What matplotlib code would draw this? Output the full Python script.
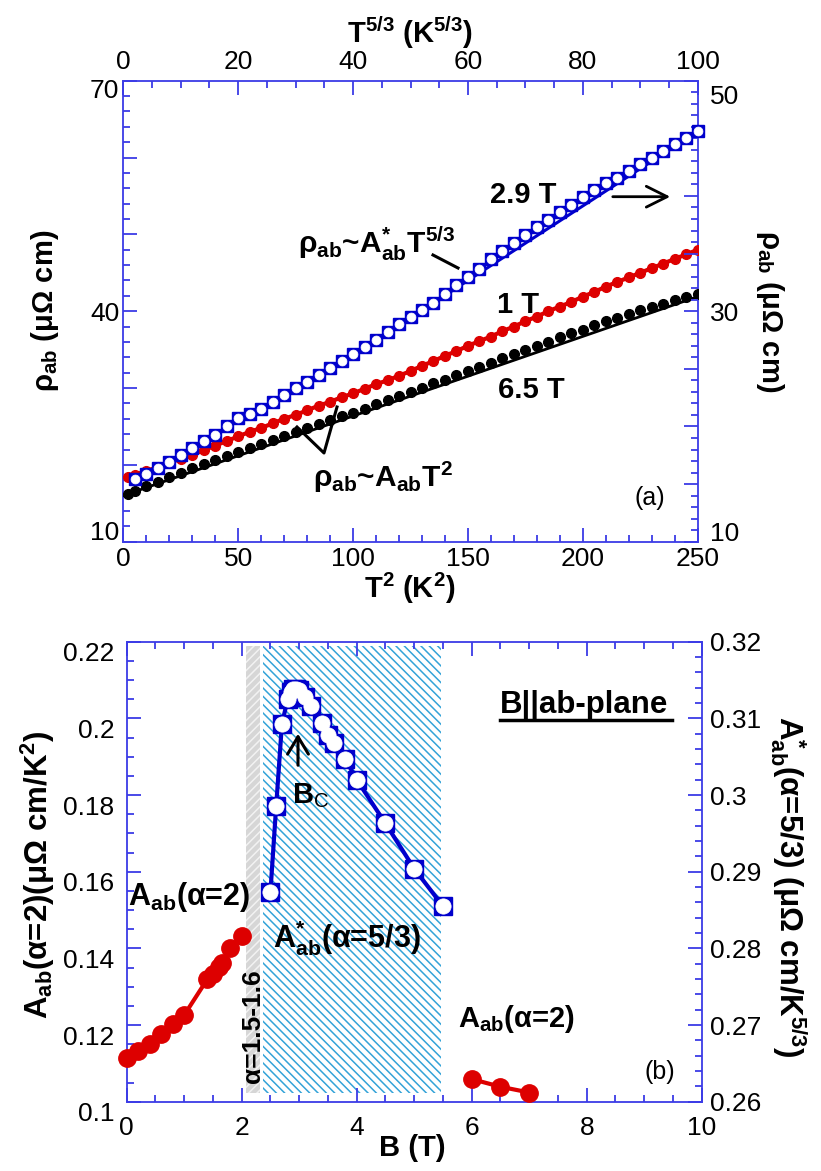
import matplotlib
matplotlib.use('Agg')
import matplotlib.pyplot as plt
from matplotlib.ticker import MultipleLocator, FixedLocator, FixedFormatter
from matplotlib.lines import Line2D
from matplotlib.transforms import ScaledTranslation

plt.rcParams['font.family'] = ['Liberation Sans', 'DejaVu Sans']
plt.rcParams['mathtext.fontset'] = 'custom'
plt.rcParams['mathtext.rm'] = 'Liberation Sans'
plt.rcParams['mathtext.bf'] = 'Liberation Sans:bold'
plt.rcParams['mathtext.it'] = 'Liberation Sans:italic'
plt.rcParams['hatch.linewidth'] = 1.1

# ---------------- data: panel (a) ----------------
t2_points = [2, 5, 10, 15, 20, 25, 30, 35, 40, 45, 50, 55, 60, 65, 70, 75, 80, 85, 90, 95,
             100, 105, 110, 115, 120, 125, 130, 135, 140, 145, 150, 155, 160, 165, 170,
             175, 180, 185, 190, 195, 200, 205, 210, 215, 220, 225, 230, 235, 240, 245, 250]
rho_1T = [18.4, 18.7, 19.2, 19.7, 20.3, 20.8, 21.3, 21.9, 22.5, 23.1, 23.7, 24.3, 24.8, 25.4,
          26.0, 26.5, 27.1, 27.7, 28.2, 28.8, 29.3, 29.9, 30.5, 31.0, 31.6, 32.2, 32.9, 33.5,
          34.2, 34.8, 35.5, 36.1, 36.7, 37.4, 38.0, 38.7, 39.3, 40.0, 40.6, 41.2, 41.9, 42.5,
          43.2, 43.8, 44.4, 45.0, 45.6, 46.2, 46.8, 47.4, 48.0]
rho_65T = [16.2, 16.55, 17.2, 17.8, 18.4, 19.0, 19.6, 20.1, 20.6, 21.1, 21.7, 22.2, 22.7, 23.2,
           23.8, 24.3, 24.8, 25.3, 25.8, 26.3, 26.8, 27.3, 27.9, 28.4, 28.9, 29.5, 30.0, 30.6,
           31.1, 31.7, 32.2, 32.8, 33.3, 33.9, 34.4, 35.0, 35.5, 36.0, 36.6, 37.1, 37.6, 38.2,
           38.7, 39.1, 39.6, 40.1, 40.6, 41.0, 41.4, 41.9, 42.3]
t53_points = [2, 4, 6, 8, 10, 12, 14, 16, 18, 20, 22, 24, 26, 28, 30, 32, 34, 36, 38, 40,
              42, 44, 46, 48, 50, 52, 54, 56, 58, 60, 62, 64, 66, 68, 70, 72, 74, 76, 78, 80,
              82, 84, 86, 88, 90, 92, 94, 96, 98, 100]
rho_29T = [15.4, 15.9, 16.4, 16.9, 17.5, 18.1, 18.7, 19.3, 20.0, 20.7, 21.1, 21.5, 22.1, 22.7,
           23.3, 23.9, 24.5, 25.1, 25.7, 26.3, 26.9, 27.5, 28.2, 28.9, 29.5, 30.1, 30.7, 31.5,
           32.3, 33.0, 33.7, 34.5, 35.2, 35.9, 36.6, 37.3, 37.9, 38.6, 39.2, 39.9, 40.5, 41.1,
           41.6, 42.2, 42.8, 43.3, 43.9, 44.5, 45.0, 45.6]
fit_t2 = [0, 250]
fit_65T = [16.0, 41.9]
fit_t53 = [40, 100]
fit_29T = [26.2, 45.6]

# ---------------- data: panel (b) ----------------
B_low = [0.0, 0.2, 0.4, 0.6, 0.8, 1.0, 1.4, 1.5, 1.6, 1.65, 1.8, 2.0]
A_low = [0.1113, 0.1133, 0.1150, 0.1177, 0.1204, 0.1226, 0.1319, 0.1333, 0.1351, 0.1361,
         0.1400, 0.1431]
B_high = [6.0, 6.5, 7.0]
A_high = [0.1059, 0.1039, 0.1024]
B_star = [2.5, 2.6, 2.7, 2.8, 2.85, 2.9, 2.95, 3.0, 3.1, 3.2, 3.4, 3.5, 3.6, 3.8, 4.0, 4.5,
          5.0, 5.5]
A_star = [0.2874, 0.2986, 0.3093, 0.3125, 0.3135, 0.3138, 0.3138, 0.3137, 0.3128, 0.3116,
          0.3094, 0.3078, 0.3068, 0.3047, 0.3020, 0.2963, 0.2904, 0.2855]
gray_band = [2.07, 2.32]
blue_band = [2.37, 5.46]
band_A = [0.1022, 0.2190]

W, H = 821, 1171
fig = plt.figure(figsize=(W / 100, H / 100), dpi=100)

AX = '#3b3be6'
RED = '#dd0000'
BLUE = '#0000cc'
TS = 19


def rect(x0, x1, y0, y1):
    return [x0 / W, 1 - y1 / H, (x1 - x0) / W, (y1 - y0) / H]


def fpos(x, y):
    return (x / W, 1 - y / H)


def style_ticks(ax, **kw):
    ax.tick_params(which='both', direction='in', color=AX, width=1.3, labelsize=TS, **kw)
    ax.tick_params(which='major', length=10)
    ax.tick_params(which='minor', length=5)


def shift_labels(axis, shifts):
    # shifts: {tick index: pixel offset downward}
    ticks = axis.get_major_ticks()
    for i, dy in shifts.items():
        off = ScaledTranslation(0, -dy / 100, fig.dpi_scale_trans)
        for lab in (ticks[i].label1, ticks[i].label2):
            lab.set_transform(lab.get_transform() + off)


# ================= panel (a) =================
ax1 = fig.add_axes(rect(123.3, 697.7, 80.7, 541.7))
ax1.set_xlim(0, 250)
ax1.set_ylim(10, 70)
for s in ax1.spines.values():
    s.set_color(AX)
    s.set_linewidth(1.3)
ax1.xaxis.set_major_locator(MultipleLocator(50))
ax1.xaxis.set_minor_locator(MultipleLocator(10))
ax1.yaxis.set_major_locator(FixedLocator([10, 20, 30, 40, 50, 60, 70]))
ax1.yaxis.set_major_formatter(FixedFormatter(['10', '', '', '40', '', '', '70']))
ax1.yaxis.set_minor_locator(MultipleLocator(2))
style_ticks(ax1, top=False, right=False)
ax1.tick_params(axis='x', pad=4)
ax1.tick_params(axis='y', pad=3)
shift_labels(ax1.yaxis, {0: -11, 6: 8})

ax1.plot(t2_points, rho_1T, '-', color=RED, lw=3, marker='o', ms=7, mec=RED, zorder=3)
ax1.plot(fit_t2, fit_65T, '-', color='black', lw=2, zorder=3)
ax1.plot(t2_points, rho_65T, 'o', color='black', ms=7, zorder=4)

axb = fig.add_axes(rect(123.3, 697.7, 80.7, 541.7), label='topright')
axb.patch.set_visible(False)
for s in axb.spines.values():
    s.set_visible(False)
axb.set_xlim(0, 100)
axb.set_ylim(10, 50)
axb.xaxis.tick_top()
axb.yaxis.tick_right()
axb.xaxis.set_major_locator(MultipleLocator(20))
axb.xaxis.set_minor_locator(MultipleLocator(5))
axb.yaxis.set_major_locator(FixedLocator([10, 15, 20, 25, 30, 35, 40, 45, 50]))
axb.yaxis.set_major_formatter(FixedFormatter(['10', '', '', '', '30', '', '', '', '50']))
axb.yaxis.set_minor_locator(MultipleLocator(1))
style_ticks(axb, bottom=False, left=False, top=True, right=True)
axb.tick_params(axis='x', pad=5)
axb.tick_params(axis='y', pad=9)
shift_labels(axb.yaxis, {0: -10, 8: 14})
axb.plot(fit_t53, fit_29T, '-', color=BLUE, lw=2.2, zorder=2)
axb.plot(t53_points, rho_29T, 's', color=BLUE, ms=8, mec=BLUE, zorder=3, clip_on=False)
axb.plot(t53_points, rho_29T, 'o', color='white', ms=6.4, mec='white', mew=0.5, zorder=4,
         clip_on=False)

# labels panel (a)
fig.text(*fpos(410, 33), r'$\mathbf{T^{5/3}}$ ($\mathbf{K^{5/3}}$)', ha='center', va='center',
         fontsize=21, fontweight='bold')
fig.text(*fpos(410, 588), r'$\mathbf{T^{2}}$ ($\mathbf{K^{2}}$)', ha='center', va='center',
         fontsize=21, fontweight='bold')
fig.text(*fpos(45, 311), r'$\mathbf{\rho_{ab}}$ (μΩ cm)', rotation=90, ha='center', va='center',
         fontsize=21, fontweight='bold')
fig.text(*fpos(770, 311), r'$\mathbf{\rho_{ab}}$ (μΩ cm)', rotation=-90, ha='center',
         va='center', fontsize=21, fontweight='bold')
fig.text(*fpos(490, 203), '2.9 T', ha='left', va='baseline', fontsize=21, fontweight='bold')
fig.text(*fpos(497, 313), '1 T', ha='left', va='baseline', fontsize=21, fontweight='bold')
fig.text(*fpos(498, 398), '6.5 T', ha='left', va='baseline', fontsize=21, fontweight='bold')
fig.text(*fpos(298, 253), r'$\mathbf{\rho_{ab}}$~$\mathbf{A^{*}_{ab}T^{5/3}}$', ha='left',
         va='baseline', fontsize=21.5, fontweight='bold')
fig.text(*fpos(313, 487), r'$\mathbf{\rho_{ab}}$~$\mathbf{A_{ab}T^{2}}$', ha='left',
         va='baseline', fontsize=21.5, fontweight='bold')
fig.text(*fpos(650, 498), '(a)', ha='center', va='center', fontsize=18)
ax1.annotate('', xy=fpos(673, 196.7), xytext=fpos(610, 196.7), xycoords='figure fraction',
             textcoords='figure fraction',
             arrowprops=dict(arrowstyle='->,head_length=0.6,head_width=0.3', lw=2,
                             color='black', mutation_scale=25))


def fig_line(pts, lw=2.2):
    xs = [p[0] / W for p in pts]
    ys = [1 - p[1] / H for p in pts]
    fig.add_artist(Line2D(xs, ys, transform=fig.transFigure, color='black', lw=lw))


fig_line([(433, 255), (458, 268)])
fig_line([(297, 427), (324, 453), (337, 407)])

# ================= panel (b) =================
ax2 = fig.add_axes(rect(126.7, 701.7, 641.7, 1101.7))
ax2.set_xlim(0, 10)
ax2.set_ylim(0.10, 0.22)
for s in ax2.spines.values():
    s.set_color(AX)
    s.set_linewidth(1.3)
ax2.xaxis.set_major_locator(MultipleLocator(2))
ax2.xaxis.set_minor_locator(MultipleLocator(0.5))
ax2.yaxis.set_major_locator(FixedLocator([0.10, 0.12, 0.14, 0.16, 0.18, 0.20, 0.22]))
ax2.yaxis.set_major_formatter(FixedFormatter(['0.1', '0.12', '0.14', '0.16', '0.18', '0.2',
                                              '0.22']))
ax2.yaxis.set_minor_locator(MultipleLocator(0.005))
style_ticks(ax2, top=True, right=False)
ax2.tick_params(axis='x', pad=10)
ax2.tick_params(axis='y', pad=9)
shift_labels(ax2.yaxis, {i: 10 for i in range(7)})

yr = [(v - 0.10) / 0.12 for v in band_A]
ax2.axvspan(gray_band[0], gray_band[1], ymin=yr[0], ymax=yr[1], facecolor='#d6d6d6',
            edgecolor='#f2f2f2', hatch='////', linewidth=0, zorder=1)
ax2.axvspan(blue_band[0], blue_band[1], ymin=yr[0], ymax=yr[1], facecolor='white',
            edgecolor='#33a3d8', hatch='\\\\\\\\', linewidth=0, zorder=1)

ax2.plot(B_low, A_low, '-o', color=RED, lw=3, ms=12.5, zorder=3, clip_on=False)
ax2.plot(B_high, A_high, '-o', color=RED, lw=3, ms=12.5, zorder=3, clip_on=False)

ax2r = ax2.twinx()
ax2r.set_ylim(0.26, 0.32)
for s in ax2r.spines.values():
    s.set_visible(False)
ax2r.yaxis.set_major_locator(FixedLocator([0.26, 0.27, 0.28, 0.29, 0.30, 0.31, 0.32]))
ax2r.yaxis.set_major_formatter(FixedFormatter(['0.26', '0.27', '0.28', '0.29', '0.3', '0.31',
                                               '0.32']))
ax2r.yaxis.set_minor_locator(MultipleLocator(0.002))
style_ticks(ax2r, right=True, left=False)
ax2r.tick_params(axis='y', pad=6)
ax2r.plot(B_star, A_star, '-', color=BLUE, lw=3, zorder=2)
ax2r.plot(B_star, A_star, 's', color=BLUE, ms=12.5, zorder=3)
ax2r.plot(B_star, A_star, 'o', color='white', ms=11, mec='white', mew=0.5, zorder=4)

# labels panel (b)
fig.text(*fpos(412, 1148), 'B (T)', ha='center', va='center', fontsize=21, fontweight='bold')
fig.text(*fpos(38, 875), r'$\mathbf{A_{ab}}$(α=2)(μΩ cm/K$^\mathbf{2}$)', rotation=90,
         ha='center', va='center', fontsize=22.5, fontweight='bold')
fig.text(*fpos(788, 887), r'$\mathbf{A^{*}_{ab}}$(α=5/3) (μΩ cm/K$^\mathbf{5/3}$)',
         rotation=-90, ha='center', va='center', fontsize=22.5, fontweight='bold')
fig.text(*fpos(128, 905), r'$\mathbf{A_{ab}}$(α=2)', ha='left', va='baseline', fontsize=22,
         fontweight='bold')
fig.text(*fpos(273, 947), r'$\mathbf{A^{*}_{ab}}$(α=5/3)', ha='left', va='baseline',
         fontsize=22, fontweight='bold')
fig.text(*fpos(458, 1027), r'$\mathbf{A_{ab}}$(α=2)', ha='left', va='baseline', fontsize=21,
         fontweight='bold')
fig.text(*fpos(253, 1026), 'α=1.5-1.6', rotation=90, ha='center', va='center', fontsize=19,
         fontweight='bold')
fig.text(*fpos(660, 1072), '(b)', ha='center', va='center', fontsize=18)
fig.text(*fpos(500, 713), 'B||ab-plane', ha='left', va='baseline', fontsize=22.5,
         fontweight='bold')
fig_line([(500, 720), (672, 720)], lw=2.5)
fig.text(*fpos(292, 803), r'$\mathbf{B}_{\mathrm{C}}$', ha='left', va='baseline', fontsize=21)
ax2.annotate('', xy=fpos(298, 731), xytext=fpos(298, 768), xycoords='figure fraction',
             textcoords='figure fraction',
             arrowprops=dict(arrowstyle='->,head_length=0.5,head_width=0.3', lw=2.2,
                             color='black', mutation_scale=25))

fig.savefig('out.png', dpi=100)
